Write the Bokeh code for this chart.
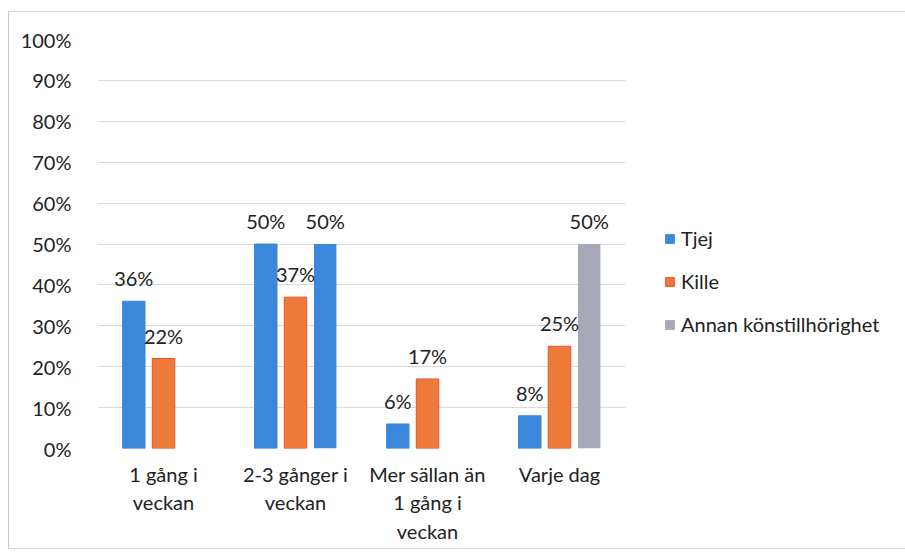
from bokeh.plotting import figure
from bokeh.models import ColumnDataSource, FactorRange, Legend, LegendItem, LabelSet, FixedTicker, NumeralTickFormatter
from bokeh.core.properties import value
from bokeh.transform import dodge
from bokeh.embed import file_html
from bokeh.resources import INLINE

categories = ["1 gång i\nveckan", "2-3 gånger i\nveckan", "Mer sällan än\n1 gång i\nveckan", "Varje dag"]
series_names = ["Tjej", "Kille", "Annan könstillhörighet"]
tjej = [0.36, 0.50, 0.06, 0.08]
kille = [0.22, 0.37, 0.17, 0.25]
annan = [0.0, 0.50, 0.0, 0.50]
annan_colors = ["#a8a9b8", "#3b87db", "#a8a9b8", "#a8a9b8"]

BLUE = "#3b87db"
ORANGE = "#ee7a3a"
GREY = "#a8a9b8"
FONT = "Lato"
FS = "20px"
TXT = "#222222"

p = figure(frame_width=528, frame_height=409, x_range=FactorRange(factors=categories), y_range=(0, 1.0),
           output_backend="svg", toolbar_location=None,
           min_border_left=88, min_border_right=271, min_border_top=27, min_border_bottom=100)
p.outline_line_color = None
p.styles = {"border-left": "1px solid #c8c8c8", "border-top": "1px solid #d8d8d8",
            "border-bottom": "1px solid #d8d8d8", "margin-left": "8px", "margin-top": "11px"}

src_t = ColumnDataSource(dict(x=categories, y=tjej, lab=[f"{round(v*100)}%" if v > 0 else "" for v in tjej]))
src_k = ColumnDataSource(dict(x=categories, y=kille, lab=[f"{round(v*100)}%" if v > 0 else "" for v in kille]))
src_a = ColumnDataSource(dict(x=categories, y=annan, c=annan_colors,
                              lab=[f"{round(v*100)}%" if v > 0 else "" for v in annan]))

w = 0.17
off = 0.225
r_t = p.vbar(x=dodge("x", -off, range=p.x_range), top="y", width=w, source=src_t,
             fill_color=BLUE, line_color=BLUE)
r_k = p.vbar(x=dodge("x", 0, range=p.x_range), top="y", width=w, source=src_k,
             fill_color=ORANGE, line_color="#e8522a")
r_a = p.vbar(x=dodge("x", off, range=p.x_range), top="y", width=w, source=src_a,
             fill_color="c", line_color=None)

for src, o in ((src_t, -off), (src_k, 0), (src_a, off)):
    p.add_layout(LabelSet(x=dodge("x", o, range=p.x_range), y="y", text="lab", source=src,
                          text_align="center", text_baseline="bottom", y_offset=11,
                          text_font=value(FONT), text_font_size=FS, text_color=TXT))

# legend proxy for the grey series colour
r_g = p.vbar(x=[categories[0]], top=[0], width=0, fill_color=GREY, line_color=GREY, visible=False)

legend = Legend(items=[LegendItem(label=series_names[0], renderers=[r_t]),
                       LegendItem(label=series_names[1], renderers=[r_k]),
                       LegendItem(label=series_names[2], renderers=[r_g])],
                location=(39, 112), border_line_color=None, background_fill_alpha=0,
                label_text_font=FONT, label_text_font_size=FS, label_text_color=TXT,
                glyph_width=11, glyph_height=11, label_height=24, spacing=19, padding=0,
                label_standoff=6, margin=0)
p.add_layout(legend, "right")

p.yaxis.ticker = FixedTicker(ticks=[i / 10 for i in range(11)])
p.yaxis.formatter = NumeralTickFormatter(format="0%")
for ax in (p.xaxis, p.yaxis):
    ax.axis_line_color = None
    ax.major_tick_line_color = None
    ax.minor_tick_line_color = None
    ax.major_label_text_font = FONT
    ax.major_label_text_font_size = FS
    ax.major_label_text_color = TXT
p.yaxis.major_label_standoff = 20
p.xaxis.major_label_standoff = 7
p.xaxis.major_label_text_line_height = 1.2
p.xgrid.grid_line_color = None
p.ygrid.grid_line_color = "#dadada"
p.ygrid.ticker = FixedTicker(ticks=[i / 10 for i in range(11)])

open("out.html", "w").write(file_html(p, INLINE))
